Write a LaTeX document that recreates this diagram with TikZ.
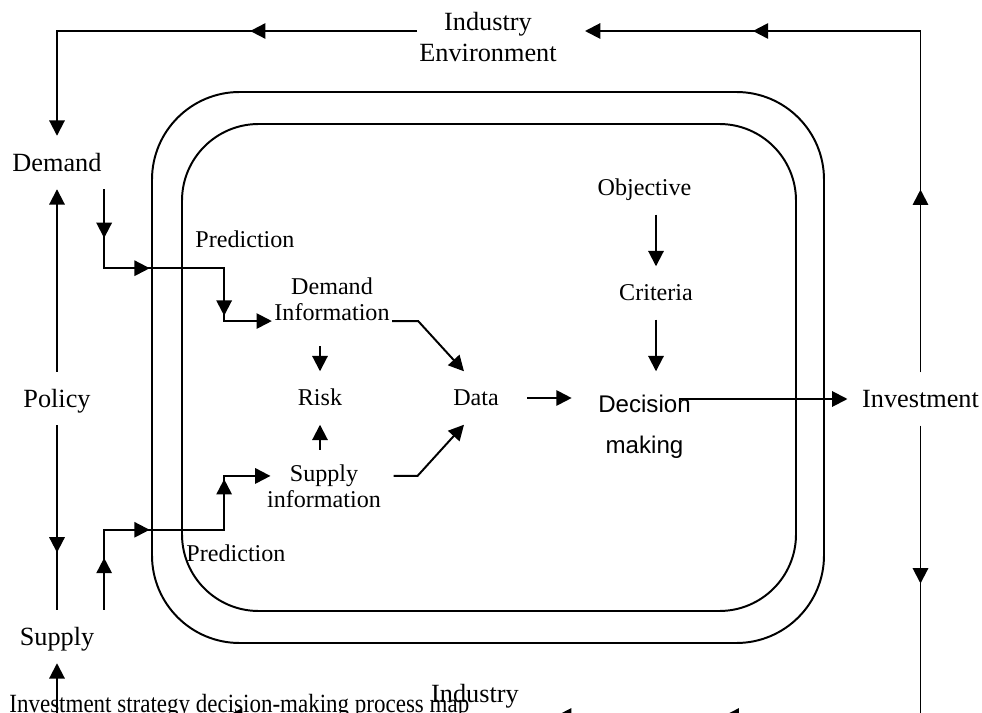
\documentclass[tikz,border=0pt]{standalone}
\usepackage{fontspec}
\setmainfont{Liberation Serif}
\newfontfamily\arialfont{Liberation Sans}
\newfontfamily\narrowfont[FakeStretch=0.875]{Liberation Serif}
\usepackage{tikz}
\usetikzlibrary{arrows.meta, decorations.markings, calc}

\begin{document}
\begin{tikzpicture}[x=0.4566pt, y=-0.4566pt,
  >={Triangle[length=7pt, width=7pt]},
  wire/.style={line width=0.9pt},
  flow/.style={wire, ->},
  midarrow/.style={postaction={decorate,
    decoration={markings, mark=at position #1 with {\arrow{>}}}}},
  outerlbl/.style={font=\fontsize{12}{14.5}\selectfont, inner sep=1pt,
    minimum height=24pt, text height=9.5pt, text depth=1.5pt},
  innerlbl/.style={font=\fontsize{11}{12}\selectfont, inner sep=1pt,
    minimum height=24pt, text height=8.7pt, text depth=1.5pt},
  twolbl/.style={font=\fontsize{11}{12}\selectfont, align=center,
    inner xsep=1pt, inner ysep=0pt},
  envlbl/.style={font=\fontsize{12}{14.6}\selectfont, align=center, inner sep=1pt}
]
\useasboundingbox (0,0) rectangle (982,713);
\clip (0,0) rectangle (982,713);

%% --- two rounded frames ---
\draw[wire, rounded corners=40pt] (152,92) rectangle (824,643);
\draw[wire, rounded corners=35pt] (182,124) rectangle (796,611);

%% --- outer labels ---
\node[envlbl] (env) at (488,37) {Industry\\Environment};
\node[envlbl] (envlow) at (475,709) {Industry\\Environment};
\node[outerlbl] (demand) at (57,162.5) {Demand};
\node[outerlbl] (policy) at (57,398.5) {Policy};
\node[outerlbl] (supply) at (57,636.5) {Supply};
\node[outerlbl] (invest) at (920.5,399) {Investment};

%% --- inner labels ---
\node[innerlbl] (pred1) at (245,240) {Prediction};
\node[innerlbl] (pred2) at (236,554) {Prediction};
\node[twolbl] (dinfo) at (332,299) {Demand\\Information};
\node[twolbl] (sinfo) at (324,486) {Supply\\information};
\node[innerlbl] (risk) at (320,398) {Risk};
\node[innerlbl] (data) at (476,398) {Data};
\node[innerlbl] (obj) at (644.5,188) {Objective};
\node[innerlbl] (crit) at (656,293) {Criteria};
\node[font=\arialfont\fontsize{11}{18.7}\selectfont, align=center,
  inner xsep=1pt, inner ysep=0pt] (dec) at (644.5,427) {Decision\\making};

%% --- loop corners and free ends ---
\coordinate (topR) at (920.5,31);
\coordinate (topL) at (57,31);
\coordinate (envE) at (585,31);
\coordinate (envW) at (417,31);
\coordinate (lowR) at (920.5,716);
\coordinate (lowL) at (57,716);
\coordinate (lowE) at (556,716);
\coordinate (lowW) at (405,716);

%% --- industry environment loop ---
\draw[flow, midarrow=0.270, midarrow=0.752] (invest.north) -- (topR) -- (envE);
\draw[flow, midarrow=0.359] (envW) -- (topL) -- (demand.north);
\draw[flow] (policy.north) -- (demand.south);
\draw[wire, midarrow=0.69] (policy.south) -- (supply.north);
\draw[flow, midarrow=0.444] (lowW) -- (lowL) -- (supply.south);
\draw[flow, midarrow=0.241, midarrow=0.744] (invest.south) -- (lowR) -- (lowE);

%% --- prediction paths ---
\draw[flow, midarrow=0.163, midarrow=0.416, midarrow=0.823]
  (demand.south east) -- ++(0,79) -- ++(120,0) |- (dinfo.south west);
\draw[flow, midarrow=0.173, midarrow=0.418, midarrow=0.835]
  (supply.north -| demand.south east) -- ++(0,-80) -- ++(120,0)
  |- ($(sinfo.north west)+(6,12)$);

%% --- information to data and risk ---
\draw[flow] (dinfo.south east) -- ++(26,0) -- ($(data.north)+(-12,0)$);
\draw[flow] ($(sinfo.north east)+(10,12)$) -- ++(24,0) -- ($(data.south)+(-12,0)$);
\draw[flow] ($(risk.north |- dinfo.south)+(0,25)$) -- (risk.north);
\draw[flow] ($(risk.south |- sinfo.north)+(0,-14)$) -- (risk.south);

%% --- decision chain ---
\draw[flow] (crit.north |- obj.south) -- (crit.north);
\draw[flow] (crit.south) -- (crit.south |- data.north);
\draw[flow] ($(data.east)+(26,0)$) -- ($(data.east -| dec.west)+(-24,0)$);
\draw[flow] ($(invest.west -| dec.north east)+(-14,0)$) -- ($(invest.west)+(-12,0)$);

%% --- caption ---
\node[anchor=base west, inner sep=0pt, font=\narrowfont\fontsize{12}{14.5}\selectfont]
  (caption) at (9,712) {Investment strategy decision-making process map};

\end{tikzpicture}
\end{document}
